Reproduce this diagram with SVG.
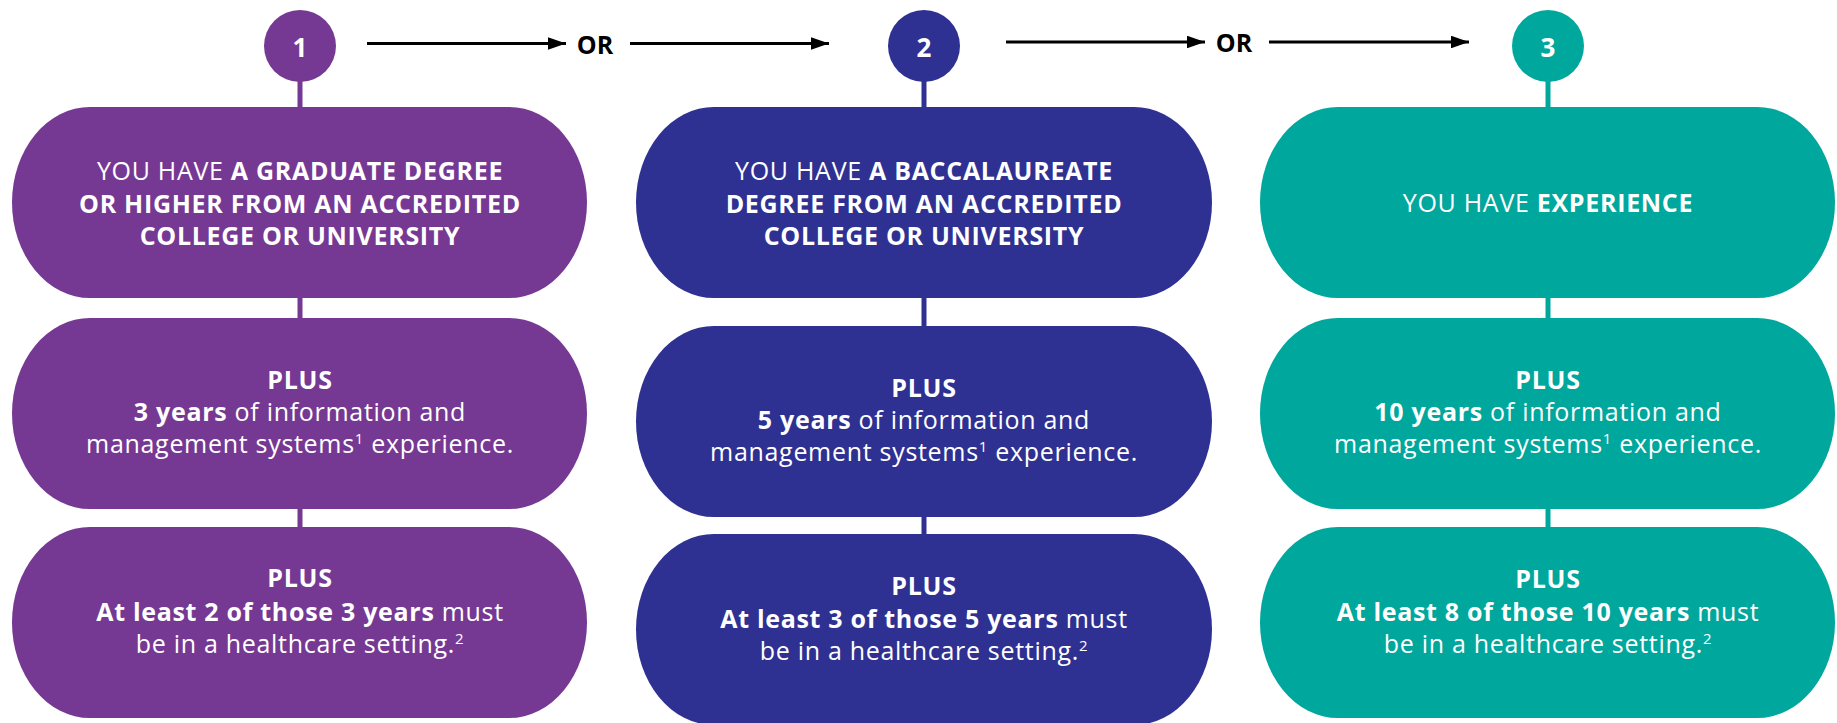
<svg xmlns="http://www.w3.org/2000/svg" width="1837" height="723" viewBox="0 0 1837 723">
<style>
text{font-family:"Open Sans","Noto Sans","Liberation Sans",sans-serif;font-size:25px;fill:#fff;text-anchor:middle;letter-spacing:0.7px}
.b{font-weight:700}
.or{fill:#000;font-weight:700;letter-spacing:0}
.sup{font-size:15px}
.p1{fill:#763993}.p2{fill:#2e3192}.p3{fill:#00a79d}
.s1{stroke:#763993}.s2{stroke:#2e3192}.s3{stroke:#00a79d}
.vl{stroke-width:5;fill:none}
.arr{stroke:#000;stroke-width:3;fill:none}
</style>
<defs>
<marker id="ah" markerWidth="6" markerHeight="4.2" refX="6" refY="2.1" orient="auto" markerUnits="strokeWidth">
<path d="M0,0 L6,2.1 L0,4.2 Z" fill="#000"/>
</marker>
</defs>
<g id="connectors">
<line class="arr" x1="367" y1="43.5" x2="566" y2="43.5" marker-end="url(#ah)"/>
<line class="arr" x1="630" y1="43.5" x2="829" y2="43.5" marker-end="url(#ah)"/>
<line class="arr" x1="1006" y1="42" x2="1205" y2="42" marker-end="url(#ah)"/>
<line class="arr" x1="1269" y1="42" x2="1469" y2="42" marker-end="url(#ah)"/>
<text class="or" x="595" y="54">OR</text>
<text class="or" x="1234" y="52">OR</text>
<line class="vl s1" x1="300" y1="80" x2="300" y2="110"/>
<line class="vl s1" x1="300" y1="295" x2="300" y2="321"/>
<line class="vl s1" x1="300" y1="506" x2="300" y2="530"/>
<line class="vl s2" x1="924" y1="80" x2="924" y2="110"/>
<line class="vl s2" x1="924" y1="295" x2="924" y2="329"/>
<line class="vl s2" x1="924" y1="514" x2="924" y2="537"/>
<line class="vl s3" x1="1548" y1="80" x2="1548" y2="110"/>
<line class="vl s3" x1="1548" y1="295" x2="1548" y2="321"/>
<line class="vl s3" x1="1548" y1="506" x2="1548" y2="530"/>
</g>
<g id="n1">
<circle class="p1" cx="300" cy="46" r="36"/>
<text class="b" x="300" y="56.5" style="font-size:26px;letter-spacing:0">1</text>
</g>
<g id="n2">
<circle class="p2" cx="924" cy="46" r="36"/>
<text class="b" x="924" y="56.5" style="font-size:26px;letter-spacing:0">2</text>
</g>
<g id="n3">
<circle class="p3" cx="1548" cy="46" r="36"/>
<text class="b" x="1548" y="56.5" style="font-size:26px;letter-spacing:0">3</text>
</g>
<g id="a1">
<rect class="p1" x="12" y="107" width="575" height="191" rx="78" ry="95.5"/>
<text x="300" y="180">YOU HAVE <tspan class="b">A GRADUATE DEGREE</tspan></text>
<text class="b" x="300" y="212.5">OR HIGHER FROM AN ACCREDITED</text>
<text class="b" x="300" y="245">COLLEGE OR UNIVERSITY</text>
</g>
<g id="a2">
<rect class="p1" x="12" y="318" width="575" height="191" rx="78" ry="95.5"/>
<text class="b" x="300" y="389">PLUS</text>
<text x="300" y="421"><tspan class="b">3 years</tspan> of information and</text>
<text x="300" y="453">management systems<tspan class="sup" dy="-9">1</tspan><tspan dy="9"> experience.</tspan></text>
</g>
<g id="a3">
<rect class="p1" x="12" y="527" width="575" height="191" rx="78" ry="95.5"/>
<text class="b" x="300" y="587">PLUS</text>
<text x="300" y="621"><tspan class="b">At least 2 of those 3 years</tspan> must</text>
<text x="300" y="653">be in a healthcare setting.<tspan class="sup" dy="-9">2</tspan></text>
</g>
<g id="b1">
<rect class="p2" x="636" y="107" width="576" height="191" rx="78" ry="95.5"/>
<text x="924" y="180">YOU HAVE <tspan class="b">A BACCALAUREATE</tspan></text>
<text class="b" x="924" y="212.5">DEGREE FROM AN ACCREDITED</text>
<text class="b" x="924" y="245">COLLEGE OR UNIVERSITY</text>
</g>
<g id="b2">
<rect class="p2" x="636" y="326" width="576" height="191" rx="78" ry="95.5"/>
<text class="b" x="924" y="397">PLUS</text>
<text x="924" y="429"><tspan class="b">5 years</tspan> of information and</text>
<text x="924" y="461">management systems<tspan class="sup" dy="-9">1</tspan><tspan dy="9"> experience.</tspan></text>
</g>
<g id="b3">
<rect class="p2" x="636" y="534" width="576" height="191" rx="78" ry="95.5"/>
<text class="b" x="924" y="595">PLUS</text>
<text x="924" y="628"><tspan class="b">At least 3 of those 5 years</tspan> must</text>
<text x="924" y="660">be in a healthcare setting.<tspan class="sup" dy="-9">2</tspan></text>
</g>
<g id="c1">
<rect class="p3" x="1260" y="107" width="575" height="191" rx="78" ry="95.5"/>
<text x="1548" y="212">YOU HAVE <tspan class="b">EXPERIENCE</tspan></text>
</g>
<g id="c2">
<rect class="p3" x="1260" y="318" width="575" height="191" rx="78" ry="95.5"/>
<text class="b" x="1548" y="389">PLUS</text>
<text x="1548" y="421"><tspan class="b">10 years</tspan> of information and</text>
<text x="1548" y="453">management systems<tspan class="sup" dy="-9">1</tspan><tspan dy="9"> experience.</tspan></text>
</g>
<g id="c3">
<rect class="p3" x="1260" y="527" width="575" height="191" rx="78" ry="95.5"/>
<text class="b" x="1548" y="588">PLUS</text>
<text x="1548" y="621"><tspan class="b">At least 8 of those 10 years</tspan> must</text>
<text x="1548" y="653">be in a healthcare setting.<tspan class="sup" dy="-9">2</tspan></text>
</g>
</svg>
